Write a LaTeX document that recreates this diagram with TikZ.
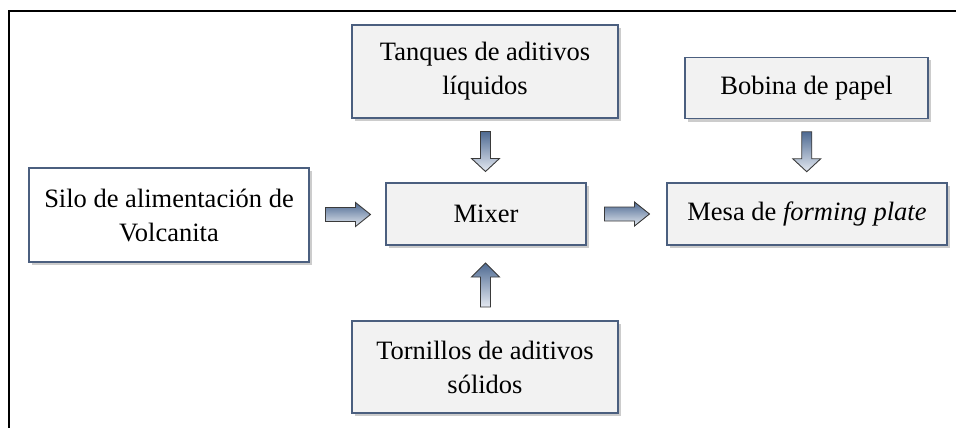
\documentclass[tikz,border=0pt]{standalone}
\usepackage{fontspec}
\setmainfont{Liberation Serif}
\usetikzlibrary{calc,shadows}
\definecolor{procblue}{HTML}{4B5F7F}
\definecolor{procfill}{HTML}{F2F2F2}
\definecolor{flowdark}{HTML}{4E6A92}
\definecolor{flowlight}{HTML}{E4E9F1}
\definecolor{flowedge}{HTML}{3A3A3A}
\makeatletter
\newcommand\flowresetsizes{\pgf@resetpathsizes}
\makeatother

\begin{document}
\begin{tikzpicture}[x=1pt,y=-1pt,
  box/.style={rectangle,draw=procblue,line width=1.8pt,fill=procfill,
    drop shadow={shadow xshift=3pt,shadow yshift=-3pt,fill=black!40,opacity=.5},
    align=center,inner sep=0pt,font=\fontsize{26.5}{34}\selectfont},
  flow/.style={draw=flowedge,line width=0.9pt,top color=flowdark,bottom color=flowlight},
  flowright/.style={flow,to path={\pgfextra{\flowresetsizes}
    ($(\tikztostart)!0.5!(\tikztotarget)+(-22,-7)$)
    -- ++(30,0) -- ++(0,-5) -- ++(15,12) -- ++(-15,12) -- ++(0,-5) -- ++(-30,0) -- cycle}},
  flowdown/.style={flow,to path={\pgfextra{\flowresetsizes}
    ($(\tikztostart)!0.5!(\tikztotarget)+(-5,-19)$)
    -- ++(10,0) -- ++(0,27) -- ++(9,0) -- ++(-14,13) -- ++(-14,-13) -- ++(9,0) -- cycle}},
  flowup/.style={flow,to path={\pgfextra{\flowresetsizes}
    ($(\tikztostart)!0.5!(\tikztotarget)+(-5,24)$)
    -- ++(10,0) -- ++(0,-30) -- ++(9,0) -- ++(-14,-14) -- ++(-14,14) -- ++(9,0) -- cycle}}
]
  \useasboundingbox (0,0) rectangle (956,428);
  \draw[line width=2.6pt] (9,428) -- (9,11) -- (956,11);

  \node[box,fill=white,minimum width=280pt,minimum height=94pt] (silo) at (169,215) {Silo de alimentación de\\Volcanita};
  \node[box,minimum width=266pt,minimum height=93pt] (tanques)   at (485,71.5) {Tanques de aditivos\\líquidos};
  \node[box,minimum width=200pt,minimum height=62pt] (mixer)     at (486,214)  {Mixer};
  \node[box,minimum width=266pt,minimum height=92pt] (tornillos) at (485,367)  {Tornillos de aditivos\\sólidos};
  \node[box,minimum width=243pt,minimum height=61pt] (bobina)    at (806.5,88) {Bobina de papel};
  \node[box,minimum width=280pt,minimum height=62pt] (mesa)      at (807,214)  {Mesa de \textit{forming plate}};

  \path[flowright] (silo.east)       to (mixer.west);
  \path[flowright] (mixer.east)      to (mesa.west);
  \path[flowdown]  (tanques.south)   to (mixer.north);
  \path[flowdown]  (bobina.south)    to (mesa.north);
  \path[flowup]    (tornillos.north) to (mixer.south);
\end{tikzpicture}
\end{document}
